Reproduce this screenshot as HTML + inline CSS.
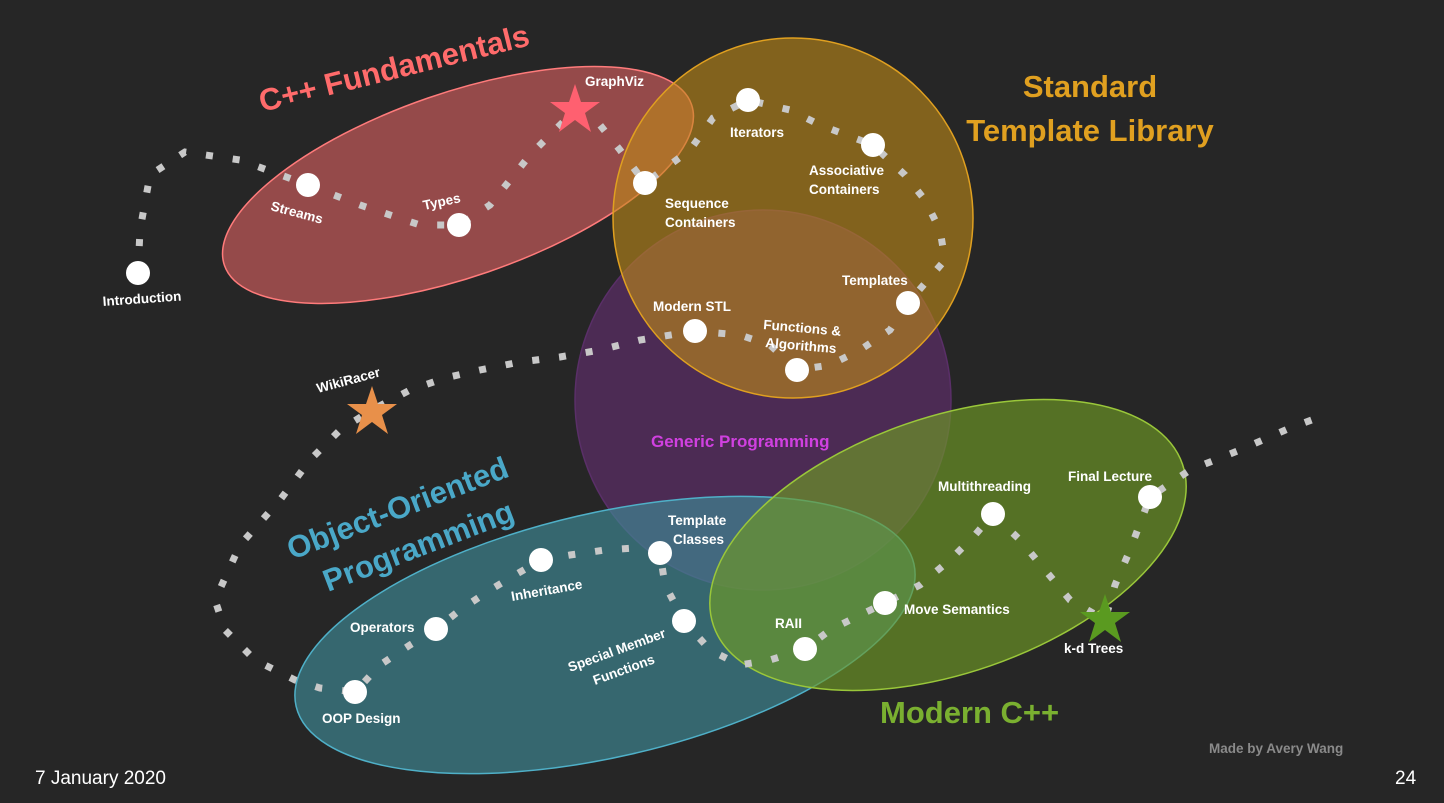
<!DOCTYPE html>
<html><head><meta charset="utf-8"><style>
html,body{margin:0;padding:0;background:#262626;}
svg{display:block}
text{font-family:"Liberation Sans",sans-serif;font-weight:bold;}
.l{fill:#fff;font-size:13.5px;}
</style></head><body>
<svg width="1444" height="803" viewBox="0 0 1444 803" xmlns="http://www.w3.org/2000/svg">
<rect width="1444" height="803" fill="#262626"/>
<!-- ellipses -->
<ellipse cx="763" cy="400" rx="188" ry="190" fill="#6b2f7a" fill-opacity="0.55" stroke="#5a2f68" stroke-width="1.5"/>
<ellipse cx="458" cy="185" rx="247" ry="92" transform="rotate(-19 458 185)" fill="#c45a5a" fill-opacity="0.7" stroke="#ff7b7b" stroke-width="1.5"/>
<circle cx="793" cy="218" r="180" fill="#c08a18" fill-opacity="0.6" stroke="#e0a020" stroke-width="1.5"/>
<ellipse cx="605" cy="635" rx="317" ry="122" transform="rotate(-13 605 635)" fill="#3f8a96" fill-opacity="0.65" stroke="#4fb0c8" stroke-width="1.5"/>
<ellipse cx="948" cy="545" rx="248" ry="128" transform="rotate(-19 948 545)" fill="#6f9a25" fill-opacity="0.65" stroke="#9ac73a" stroke-width="1.5"/>
<!-- dotted path -->
<polyline fill="none" stroke="#c8c8c8" stroke-width="7" stroke-dasharray="7 20" points="138,273 140,230 150,175 185,152 240,160 308,185 360,205 420,225 459,225 490,205 530,155 575,110 600,125 620,150 645,183 690,150 713,118 748,100 790,110 820,125 873,145 905,175 925,200 940,230 945,260 908,303 890,330 860,350 830,365 797,370 770,345 740,335 695,331 640,340 600,350 560,357 520,362 480,370 445,378 410,390 372,410 340,430 310,460 280,500 240,545 215,600 225,630 255,660 295,680 320,688 355,692 380,665 410,645 436,629 460,610 490,590 515,575 541,560 570,555 605,550 635,548 660,553 665,585 684,621 710,650 740,665 770,660 805,649 830,630 860,615 885,603 920,585 950,560 975,535 993,514 1020,540 1045,570 1070,600 1105,620 1115,585 1130,550 1150,497 1190,470 1240,450 1290,428 1325,415"/>
<!-- nodes -->
<g fill="#fff">
<circle cx="138" cy="273" r="12"/><circle cx="308" cy="185" r="12"/><circle cx="459" cy="225" r="12"/>
<circle cx="645" cy="183" r="12"/><circle cx="748" cy="100" r="12"/><circle cx="873" cy="145" r="12"/>
<circle cx="908" cy="303" r="12"/><circle cx="797" cy="370" r="12"/><circle cx="695" cy="331" r="12"/>
<circle cx="355" cy="692" r="12"/><circle cx="436" cy="629" r="12"/><circle cx="541" cy="560" r="12"/>
<circle cx="660" cy="553" r="12"/><circle cx="684" cy="621" r="12"/><circle cx="805" cy="649" r="12"/>
<circle cx="885" cy="603" r="12"/><circle cx="993" cy="514" r="12"/><circle cx="1150" cy="497" r="12"/>
</g>
<!-- stars -->
<polygon points="575,84 581,102 600,102 585,113 591,132 575,120 559,132 565,113 550,102 569,102" fill="#ff6070"/>
<polygon points="372,386 378,404 397,404 382,415 388,434 372,422 356,434 362,415 347,404 366,404" fill="#e8904a"/>
<polygon points="1105,594 1111,612 1130,612 1115,623 1121,642 1105,630 1089,642 1095,623 1080,612 1099,612" fill="#5a9a20"/>
<!-- labels -->
<text class="l" x="103" y="306" transform="rotate(-4 103 306)">Introduction</text>
<text class="l" x="270" y="210" transform="rotate(15 270 210)">Streams</text>
<text class="l" x="424" y="210" transform="rotate(-12 424 210)">Types</text>
<text class="l" x="585" y="86" font-size="13">GraphViz</text>
<text class="l" x="665" y="208">Sequence</text>
<text class="l" x="665" y="227">Containers</text>
<text class="l" x="730" y="137">Iterators</text>
<text class="l" x="809" y="175">Associative</text>
<text class="l" x="809" y="194">Containers</text>
<text class="l" x="842" y="285">Templates</text>
<text class="l" x="763" y="329" transform="rotate(5 763 329)">Functions &amp;</text>
<text class="l" x="765" y="347" transform="rotate(5 765 347)">Algorithms</text>
<text class="l" x="653" y="311">Modern STL</text>
<text class="l" x="318" y="393" transform="rotate(-15 318 393)">WikiRacer</text>
<text x="651" y="447" fill="#d040e0" font-size="17">Generic Programming</text>
<text class="l" x="668" y="525">Template</text>
<text class="l" x="673" y="544">Classes</text>
<text class="l" x="512" y="601" transform="rotate(-10 512 601)">Inheritance</text>
<text class="l" x="350" y="632">Operators</text>
<text class="l" x="322" y="723">OOP Design</text>
<text class="l" x="570" y="672" transform="rotate(-20 570 672)">Special Member</text>
<text class="l" x="595" y="685" transform="rotate(-20 595 685)">Functions</text>
<text class="l" x="775" y="628">RAII</text>
<text class="l" x="904" y="614">Move Semantics</text>
<text class="l" x="938" y="491">Multithreading</text>
<text class="l" x="1068" y="481">Final Lecture</text>
<text class="l" x="1064" y="653">k-d Trees</text>
<!-- titles -->
<text x="262" y="112" fill="#ff6b6b" font-size="31" transform="rotate(-14 262 112)">C++ Fundamentals</text>
<text x="1090" y="97" fill="#e0a020" font-size="31" text-anchor="middle">Standard</text>
<text x="1090" y="141" fill="#e0a020" font-size="31" text-anchor="middle">Template Library</text>
<text x="292" y="560" fill="#4aa8c8" font-size="31" transform="rotate(-21 292 560)">Object-Oriented</text>
<text x="328" y="592" fill="#4aa8c8" font-size="31" transform="rotate(-21 328 592)">Programming</text>
<text x="880" y="723" fill="#7ab030" font-size="31">Modern C++</text>
<text x="1209" y="753" fill="#8a8a8a" font-size="13.5">Made by Avery Wang</text>
<text x="35" y="784" fill="#fff" font-size="19" font-weight="normal" style="font-weight:normal">7 January 2020</text>
<text x="1395" y="784" fill="#fff" font-size="19" style="font-weight:normal">24</text>
</svg>
</body></html>
